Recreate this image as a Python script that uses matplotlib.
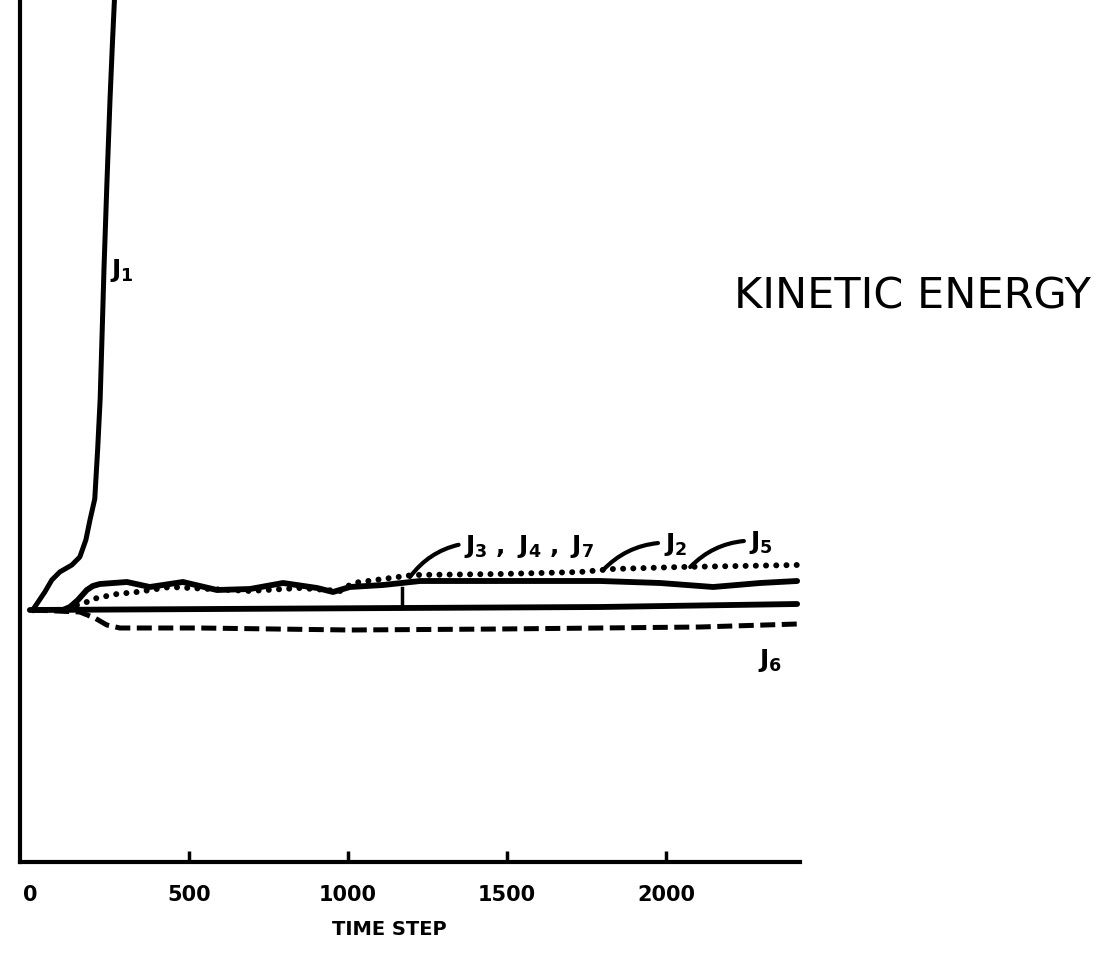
import matplotlib.pyplot as plt
import numpy as np

# time step values and energy (arbitrary units)
j1_t = [9, 47, 69, 94, 132, 157, 176, 189, 204, 213, 221, 227, 233, 242, 252, 260, 266, 270]
j1_e = [0, .18, .30, .38, .45, .53, .70, .90, 1.11, 1.6, 2.11, 2.75, 3.41, 4.25, 5.11, 5.7, 6.11, 6.4]

j2_t = [104, 126, 151, 179, 198, 220, 305, 377, 481, 588, 692, 796, 903, 953, 1006, 1110,
        1227, 1793, 1981, 2148, 2296, 2412]
j2_e = [0, .03, .10, .20, .24, .26, .28, .23, .28, .20, .21, .27, .22, .18, .23, .25,
        .29, .29, .27, .23, .27, .29]

j5_t = [148, 179, 211, 274, 337, 440, 692, 849, 975, 1016, 1110, 1204, 1478, 1730, 1833, 2044, 2412]
j5_e = [.05, .08, .12, .16, .18, .23, .19, .22, .19, .27, .31, .35, .36, .38, .41, .43, .45]

j347_t = [0, 1164, 1793, 2412]
j347_e = [0, .02, .03, .06]

j6_t = [9, 157, 204, 242, 283, 535, 1006, 1478, 2107, 2412]
j6_e = [0, -.02, -.08, -.15, -.18, -.18, -.20, -.19, -.17, -.14]

xticks = [0, 500, 1000, 1500, 2000]

fig = plt.figure(figsize=(11.2, 9.79), dpi=100)
ax = fig.add_axes([20 / 1120, 116 / 979, 780 / 1120, 863 / 979])

ax.plot(j5_t, j5_e, color="black", lw=4.3, linestyle=(0, (0.01, 1.7)),
        dash_capstyle="round", zorder=2)
ax.plot(j347_t, j347_e, color="black", lw=4.2, solid_capstyle="round", zorder=3)
ax.plot(j6_t, j6_e, color="black", lw=3.6, linestyle=(0, (3.0, 1.3)), zorder=3)
ax.plot(j2_t, j2_e, color="black", lw=4.2, solid_capstyle="round", zorder=4)
ax.plot(j1_t, j1_e, color="black", lw=3.6, zorder=4)

ax.set_xlim(-31, 2421)
ax.set_ylim(-2.52, 6.11)

for s in ["top", "right"]:
    ax.spines[s].set_visible(False)
for s in ["left", "bottom"]:
    ax.spines[s].set_linewidth(3)

ax.set_yticks([])
ax.set_xticks(xticks)
ax.set_xticklabels([str(t) for t in xticks], fontsize=15, fontweight="bold")
ax.tick_params(axis="x", direction="in", length=8, width=2.5, pad=16)
ax.xaxis.get_major_ticks()[0].tick1line.set_visible(False)
ax.set_xlabel("TIME STEP", fontsize=14, fontweight="bold")
ax.xaxis.set_label_coords(0.474, -0.066)

lab = dict(fontsize=18, color="black")
ax.text(252, 3.41, r"$\mathbf{J_1}$", ha="left", va="center", **lab)
ax.text(2327, -0.49, r"$\mathbf{J_6}$", ha="center", va="center", **lab)

arc = dict(arrowstyle="-", lw=3, color="black", connectionstyle="arc3,rad=0.2",
           relpos=(0, 0.55), shrinkA=2, shrinkB=0)
ax.annotate(r"$\mathbf{J_3\ ,\ J_4\ ,\ J_7}$", xy=(1195, 0.33), xytext=(1365, 0.65),
            ha="left", va="center", arrowprops=arc, **lab)
ax.annotate(r"$\mathbf{J_2}$", xy=(1802, 0.40), xytext=(1992, 0.66),
            ha="left", va="center", arrowprops=arc, **lab)
ax.annotate(r"$\mathbf{J_5}$", xy=(2076, 0.43), xytext=(2262, 0.68),
            ha="left", va="center", arrowprops=arc, **lab)
ax.plot([1170, 1170], [0.02, 0.22], color="black", lw=2.5)

fig.text(0.655, 0.697, "KINETIC ENERGY", fontsize=31, ha="left", va="center")

fig.savefig("out.png", dpi=100)
